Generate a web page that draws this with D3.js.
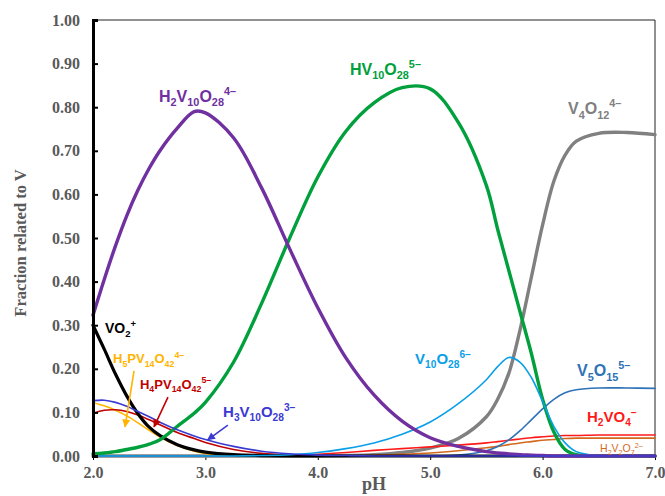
<!DOCTYPE html>
<html>
<head>
<meta charset="utf-8">
<script src="https://cdn.jsdelivr.net/npm/d3@7/dist/d3.min.js"></script>
<style>
html,body{margin:0;padding:0;background:#fff;}
svg{display:block;}
</style>
</head>
<body>
<svg id="chart" width="665" height="496"></svg>
<script>
// ---------- DATA ----------
const pH = [2.0,2.1,2.2,2.3,2.4,2.5,2.6,2.75,2.9,3.0,3.25,3.5,3.75,4.0,4.25,4.5,4.75,5.0,5.25,5.5,5.6,5.7,5.8,5.9,6.0,6.1,6.2,6.3,6.5,6.75,7.0];

const V10O28_6 = [0,0,0,0,0,0,0,0,0,0,0,0.001,0.003,0.008,0.017,0.03,0.05,0.078,0.12,0.175,0.205,0.226,0.215,0.18,0.125,0.068,0.03,0.01,0.001,0,0];
const V5O15_5 = [0,0,0,0,0,0,0,0,0,0,0,0,0,0,0,0,0,0,0.002,0.012,0.022,0.037,0.058,0.083,0.108,0.13,0.145,0.152,0.156,0.156,0.155];
const H2V2O7_2 = [0,0,0,0,0,0,0,0,0,0,0,0,0,0,0,0.002,0.004,0.007,0.012,0.019,0.022,0.026,0.03,0.033,0.036,0.038,0.04,0.041,0.041,0.041,0.041];
const H2VO4_1 = [0,0,0,0,0,0,0,0,0,0,0,0,0.001,0.004,0.008,0.013,0.017,0.021,0.025,0.03,0.033,0.036,0.039,0.042,0.044,0.046,0.047,0.047,0.048,0.048,0.048];
const H5PV14O42_4 = [0.122,0.115,0.105,0.092,0.076,0.059,0.043,0.024,0.011,0.006,0.001,0,0,0,0,0,0,0,0,0,0,0,0,0,0,0,0,0,0,0,0];
const H4PV14O42_5 = [0.098,0.105,0.106,0.102,0.094,0.083,0.071,0.054,0.04,0.031,0.015,0.006,0.002,0,0,0,0,0,0,0,0,0,0,0,0,0,0,0,0,0,0];
const H3V10O28_3 = [0.127,0.128,0.123,0.114,0.102,0.09,0.077,0.06,0.046,0.038,0.022,0.011,0.005,0.002,0.001,0,0,0,0,0,0,0,0,0,0,0,0,0,0,0,0];
const VO2_1 = [0.30,0.245,0.188,0.138,0.097,0.066,0.046,0.026,0.014,0.009,0.003,0.001,0,0,0,0,0,0,0,0,0,0,0,0,0,0,0,0,0,0,0];
const V4O12_4 = [0,0,0,0,0,0,0,0,0,0,0,0,0,0,0.001,0.003,0.008,0.018,0.04,0.09,0.13,0.19,0.29,0.41,0.53,0.63,0.69,0.722,0.74,0.742,0.737];
const H2V10O28_4 = [0.323,0.405,0.482,0.551,0.61,0.66,0.702,0.752,0.79,0.787,0.73,0.615,0.475,0.34,0.225,0.14,0.08,0.042,0.022,0.01,0.007,0.005,0.003,0.002,0.001,0,0,0,0,0,0];
const HV10O28_5 = [0.005,0.007,0.01,0.015,0.02,0.027,0.038,0.068,0.098,0.123,0.215,0.35,0.50,0.64,0.745,0.81,0.845,0.842,0.765,0.62,0.52,0.425,0.33,0.235,0.13,0.055,0.015,0.003,0,0,0];

const yTicks = [0,0.1,0.2,0.3,0.4,0.5,0.6,0.7,0.8,0.9,1.0];
const xTicks = [2,3,4,5,6,7];

// series in drawing order: values, colour, width
const series = [
  {v:V4O12_4,   c:"#808080", w:3.4},
  {v:H2V2O7_2,  c:"#d2691e", w:1.6},
  {v:H2VO4_1,   c:"#ff1a1a", w:1.6},
  {v:V5O15_5,   c:"#2e72b8", w:1.6},
  {v:H5PV14O42_4, c:"#ffb400", w:1.6},
  {v:H4PV14O42_5, c:"#c00000", w:1.6},
  {v:VO2_1,     c:"#000000", w:3.2},
  {v:HV10O28_5, c:"#00a03c", w:3.4},
  {v:V10O28_6,  c:"#0a9fe8", w:1.6},
  {v:H2V10O28_4,c:"#7030a0", w:3.4},
  {v:H3V10O28_3,  c:"#3a3ad2", w:1.6}
];

// labels: parts [text, kind], position in data coords, colour, size
const labels = [
  {p:[["H",""],["2","sub"],["V",""],["10","sub"],["O",""],["28","sub"],["4–","sup"]], x:2.587, y:0.812, c:"#7030a0", s:16, b:true},
  {p:[["HV",""],["10","sub"],["O",""],["28","sub"],["5–","sup"]], x:4.286, y:0.874, c:"#00a03c", s:16, b:true},
  {p:[["V",""],["4","sub"],["O",""],["12","sub"],["4–","sup"]], x:6.226, y:0.784, c:"#808080", s:16, b:true},
  {p:[["V",""],["10","sub"],["O",""],["28","sub"],["6–","sup"]], x:4.865, y:0.211, c:"#0a9fe8", s:15, b:true},
  {p:[["V",""],["5","sub"],["O",""],["15","sub"],["5–","sup"]], x:6.306, y:0.183, c:"#2e72b8", s:16, b:true},
  {p:[["H",""],["2","sub"],["VO",""],["4","sub"],["–","sup"]], x:6.395, y:0.078, c:"#ff1a1a", s:15, b:true},
  {p:[["H",""],["2","sub"],["V",""],["2","sub"],["O",""],["7","sub"],["2–","sup"]], x:6.511, y:0.009, c:"#d2691e", s:10.5, b:false},
  {p:[["VO",""],["2","sub"],["+","sup"]], x:2.107, y:0.282, c:"#000000", s:14, b:true},
  {p:[["H",""],["5","sub"],["PV",""],["14","sub"],["O",""],["42","sub"],["4–","sup"]], x:2.178, y:0.213, c:"#ffb400", s:13, b:true},
  {p:[["H",""],["4","sub"],["PV",""],["14","sub"],["O",""],["42","sub"],["5–","sup"]], x:2.418, y:0.154, c:"#c00000", s:13, b:true},
  {p:[["H",""],["3","sub"],["V",""],["10","sub"],["O",""],["28","sub"],["3–","sup"]], x:3.157, y:0.089, c:"#3a3ad2", s:15, b:true}
];

// arrows in data coords
const arrows = [
  {x1:2.365, y1:0.195, x2:2.285, y2:0.067, c:"#ffb400"},
  {x1:2.667, y1:0.135, x2:2.543, y2:0.067, c:"#c00000"},
  {x1:3.20,  y1:0.071, x2:3.02,  y2:0.037, c:"#3a3ad2"}
];

// ---------- CHART ----------
const svg = d3.select("#chart");
const W = 665, H = 496;
const m = {l:93, t:20, r:10, b:40};
const iw = W - m.l - m.r, ih = H - m.t - m.b;

const x = d3.scaleLinear().domain([2,7]).range([m.l, m.l+iw]);
const y = d3.scaleLinear().domain([0,1]).range([m.t+ih, m.t]);

const serif = "'Liberation Serif','Times New Roman',serif";
const sans = "'Liberation Sans',Arial,Helvetica,sans-serif";

// frame (top & right)
svg.append("path")
  .attr("d", `M${x(2)},${y(1)}H${x(7)}V${y(0)}`)
  .attr("fill","none").attr("stroke","#222").attr("stroke-width",1);

// x axis
const xa = svg.append("g").attr("transform",`translate(0,${y(0)})`)
  .call(d3.axisBottom(x).tickValues(xTicks).tickFormat(d3.format(".1f")).tickSize(4).tickPadding(7));
xa.select(".domain").attr("stroke","#000").attr("stroke-width",1);
xa.selectAll(".tick line").attr("stroke","#000").attr("stroke-width",1);
xa.selectAll("text").attr("font-family",serif).attr("font-weight","bold").attr("font-size",16).attr("fill","#595959");

// lines
const line = d3.line().x((d,i)=>x(pH[i])).y(d=>y(d)).curve(d3.curveCatmullRom.alpha(0.5));
svg.append("g").selectAll("path").data(series).join("path")
  .attr("d", d=>line(d.v))
  .attr("fill","none").attr("stroke",d=>d.c).attr("stroke-width",d=>d.w)
  .attr("stroke-linejoin","round").attr("stroke-linecap","round");

// y axis
const ya = svg.append("g").attr("transform",`translate(${x(2)},0)`)
  .call(d3.axisLeft(y).tickValues(yTicks).tickFormat(d3.format(".2f")).tickSize(-5).tickPadding(13));
ya.select(".domain").attr("stroke","#000").attr("stroke-width",3);
ya.selectAll(".tick line").attr("stroke","#000").attr("stroke-width",2);
ya.selectAll("text").attr("font-family",serif).attr("font-weight","bold").attr("font-size",16).attr("fill","#595959");

// axis titles
svg.append("text").attr("x", x(4.5)).attr("y", 490).attr("text-anchor","middle")
  .attr("font-family",serif).attr("font-weight","bold").attr("font-size",18).attr("fill","#595959").text("pH");
svg.append("text").attr("transform",`translate(26,${y(0.5)+5}) rotate(-90)`).attr("text-anchor","middle")
  .attr("font-family",serif).attr("font-weight","bold").attr("font-size",16.5).attr("fill","#595959").text("Fraction related to V");

// arrows
const defs = svg.append("defs");
arrows.forEach((a,i)=>{
  defs.append("marker").attr("id","ah"+i).attr("viewBox","0 0 10 10").attr("refX",9).attr("refY",5)
    .attr("markerWidth",9).attr("markerHeight",8).attr("markerUnits","userSpaceOnUse").attr("orient","auto")
    .append("path").attr("d","M0,0L10,5L0,10Z").attr("fill",a.c);
});
svg.append("g").selectAll("line").data(arrows).join("line")
  .attr("x1",d=>x(d.x1)).attr("y1",d=>y(d.y1)).attr("x2",d=>x(d.x2)).attr("y2",d=>y(d.y2))
  .attr("stroke",d=>d.c).attr("stroke-width",1.6)
  .attr("marker-end",(d,i)=>`url(#ah${i})`);

// labels with sub/superscripts
labels.forEach(L=>{
  const t = svg.append("text").attr("x",x(L.x)).attr("y",y(L.y))
    .attr("font-family",sans).attr("font-weight",L.b?"bold":"normal")
    .attr("font-size",L.s).attr("fill",L.c);
  let cur = 0;
  L.p.forEach(([txt,kind])=>{
    const target = kind==="sub" ? 0.28*L.s : kind==="sup" ? -0.42*L.s : 0;
    t.append("tspan").attr("dy", target-cur)
      .attr("font-size", kind ? L.s*0.68 : L.s).text(txt);
    cur = target;
  });
});
</script>
</body>
</html>
